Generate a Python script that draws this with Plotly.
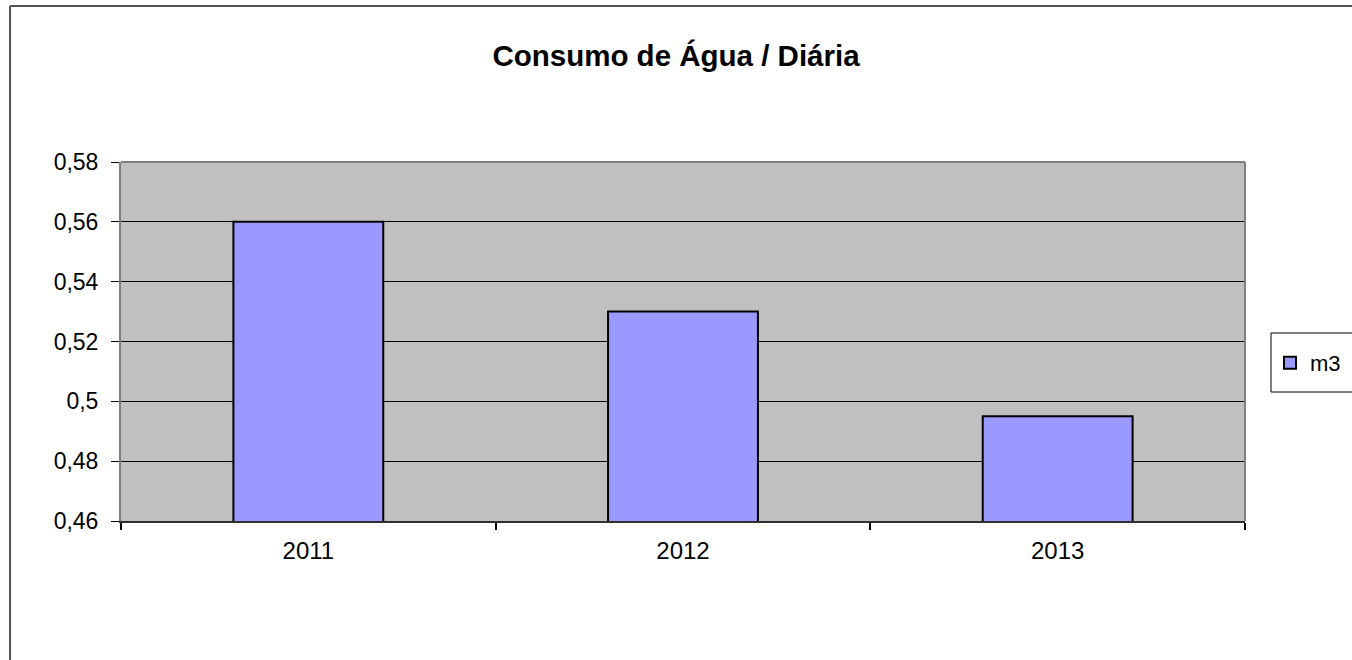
import plotly.graph_objects as go

categories = ["2011", "2012", "2013"]
values_m3 = [0.56, 0.53, 0.495]
series_name = "m3"
y_tickvals = [0.46, 0.48, 0.50, 0.52, 0.54, 0.56, 0.58]
y_ticktext = ["0,46", "0,48", "0,5", "0,52", "0,54", "0,56", "0,58"]
title_text = "Consumo de Água / Diária"

W, H = 1352, 660
L, R, T, B = 121, 1245, 162, 521
pw, ph = R - L, B - T

def px(x):
    return (x - L) / pw

def py(y):
    return (B - y) / ph

fig = go.Figure()
fig.add_trace(go.Bar(
    x=categories, y=values_m3, name=series_name,
    marker=dict(color="#9999FF", line=dict(color="black", width=2)),
    showlegend=True,
))

font = "Liberation Sans, Arial, sans-serif"
fig.update_layout(
    width=W, height=H, autosize=False,
    margin=dict(l=L, r=W - R, t=T, b=H - B, pad=0, autoexpand=False),
    paper_bgcolor="white", plot_bgcolor="#C0C0C0",
    bargap=0.6,
    font=dict(family=font, size=22, color="black"),
    title=dict(text="<b>" + title_text + "</b>", x=0.5, xref="container",
               xanchor="center", y=1 - 56 / H, yanchor="middle",
               font=dict(family=font, size=29.5, color="black")),
    xaxis=dict(type="category", showgrid=False, showline=True, linecolor="#303030",
               linewidth=2, ticks="outside", tickson="boundaries", ticklen=7,
               tickwidth=2, tickcolor="black", ticklabelstandoff=7,
               tickfont=dict(family=font, size=24), zeroline=False, fixedrange=True,
               automargin=False),
    yaxis=dict(range=[0.46, 0.58], tickvals=y_tickvals, ticktext=y_ticktext,
               showgrid=True, gridcolor="black", gridwidth=1, showline=True,
               linecolor="#808080", linewidth=2, ticks="outside", ticklen=8,
               tickwidth=1, tickcolor="black", ticklabelstandoff=8,
               tickfont=dict(family=font, size=23), zeroline=False, automargin=False),
    legend=dict(xref="container", yref="container",
                x=(1290 - 20) / W, y=(H - 363) / H, xanchor="left", yanchor="middle",
                bgcolor="rgba(0,0,0,0)", borderwidth=0, itemwidth=30,
                font=dict(family=font, size=22)),
    showlegend=True,
)

shapes = [
    dict(type="line", xref="paper", yref="paper", x0=0, x1=1, y0=1, y1=1,
         line=dict(color="#808080", width=2)),
    dict(type="line", xref="paper", yref="paper", x0=1, x1=1, y0=0, y1=1,
         line=dict(color="#808080", width=2)),
    dict(type="line", xref="paper", yref="paper", x0=px(10), x1=px(1360),
         y0=py(6), y1=py(6), line=dict(color="#555555", width=2)),
    dict(type="line", xref="paper", yref="paper", x0=px(10), x1=px(10),
         y0=py(6), y1=py(670), line=dict(color="#555555", width=2)),
    dict(type="rect", xref="paper", yref="paper", x0=px(1271), x1=px(1362),
         y0=py(392), y1=py(333), line=dict(color="black", width=1),
         fillcolor="white", layer="below"),
]
fig.update_layout(shapes=shapes)

fig.write_html("out.html", config={"displayModeBar": False},
               post_script="document.body.style.margin='0';document.body.style.overflow='hidden';")
